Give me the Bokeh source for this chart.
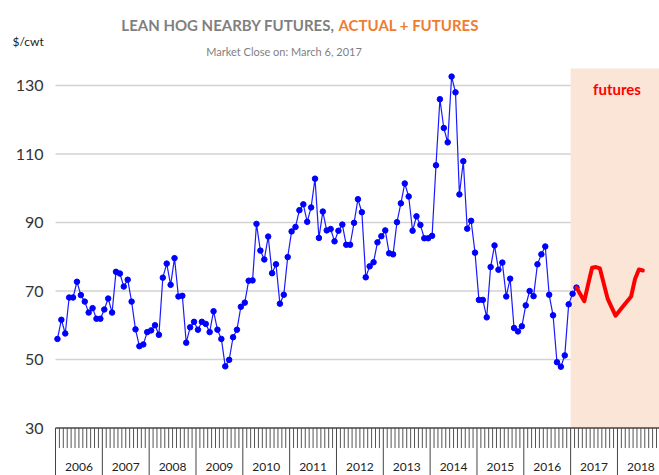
from bokeh.plotting import figure
from bokeh.models import Range1d, ColumnDataSource
from bokeh.core.properties import value
from bokeh.embed import file_html
from bokeh.resources import INLINE

# ---------------- data (monthly nearby lean hog futures, $/cwt) ----------------
hog_2006 = [56.0, 61.6, 57.6, 68.1, 68.1, 72.7, 68.8, 66.9, 63.7, 65.0, 61.9, 61.9]
hog_2007 = [64.6, 67.8, 63.7, 75.6, 75.1, 71.3, 73.3, 66.9, 58.8, 53.9, 54.4, 58.0]
hog_2008 = [58.5, 60.0, 57.2, 73.9, 78.0, 71.8, 79.6, 68.4, 68.6, 54.9, 59.4, 61.0]
hog_2009 = [58.7, 61.0, 60.4, 58.0, 64.1, 58.7, 56.0, 48.0, 49.9, 56.5, 58.7, 65.4]
hog_2010 = [66.6, 73.0, 73.1, 89.6, 81.8, 79.2, 85.9, 75.2, 77.8, 66.3, 68.9, 79.9]
hog_2011 = [87.4, 88.7, 93.6, 95.3, 90.2, 94.4, 102.8, 85.5, 93.2, 87.7, 88.1, 84.5]
hog_2012 = [87.6, 89.4, 83.5, 83.5, 89.9, 96.8, 93.0, 74.0, 77.2, 78.4, 84.2, 86.0]
hog_2013 = [87.7, 81.0, 80.7, 90.1, 95.6, 101.4, 97.6, 87.6, 91.8, 89.3, 85.4, 85.4]
hog_2014 = [86.1, 106.7, 126.0, 117.6, 113.4, 132.6, 128.0, 98.2, 107.9, 88.2, 90.5, 81.2]
hog_2015 = [67.4, 67.4, 62.3, 77.0, 83.3, 76.2, 78.3, 68.4, 73.6, 59.2, 58.2, 59.7]
hog_2016 = [65.8, 70.0, 68.5, 77.8, 80.7, 83.0, 68.9, 62.9, 49.2, 47.9, 51.2, 66.1]
hog_2017 = [69.2, 71.0]
actual_start_year = 2006

futures_months = ["2017-02", "2017-04", "2017-05", "2017-06", "2017-07", "2017-08",
                  "2017-10", "2017-12", "2018-02", "2018-04", "2018-05", "2018-06", "2018-07"]
futures_values = [71.0, 67.0, 72.0, 76.8, 77.0, 76.6, 67.7, 62.8, 65.6, 68.4, 73.5, 76.3, 76.0]
futures_start = 2017

year_labels = ["2006", "2007", "2008", "2009", "2010", "2011", "2012",
               "2013", "2014", "2015", "2016", "2017", "2018"]
y_ticks = [30, 50, 70, 90, 110, 130]
grid_ticks = [50, 70, 90, 110, 130]
y_axis_floor = 30
y_axis_top = 135

title_left = "LEAN HOG NEARBY FUTURES,"
title_right = "ACTUAL + FUTURES"
subtitle = "Market Close on: March 6, 2017"
unit_label = "$/cwt"
futures_label = "futures"

# ---------------- derived ----------------
actual_values = (hog_2006 + hog_2007 + hog_2008 + hog_2009 + hog_2010 + hog_2011 +
                 hog_2012 + hog_2013 + hog_2014 + hog_2015 + hog_2016 + hog_2017)
actual_x = [actual_start_year + (i + 0.5) / 12 for i in range(len(actual_values))]


def month_to_x(s):
    y, m = s.split("-")
    return int(y) + (int(m) - 0.5) / 12


futures_x = [month_to_x(s) for s in futures_months]

# ---------------- layout / scales ----------------
W, H = 659, 475
PX_YEAR = 46.83          # pixels per year
PX_UNIT = 3.425          # pixels per $/cwt
FRAME_L = 55             # pixel where the first year starts
Y130_PX = 85             # pixel row of the 130 gridline
first_year = int(year_labels[0])
X0 = first_year - FRAME_L / PX_YEAR
X1 = first_year + (W - FRAME_L) / PX_YEAR
Y1 = 130 + Y130_PX / PX_UNIT
Y0 = 130 - (H - Y130_PX) / PX_UNIT


def wx(px):
    return first_year + (px - FRAME_L) / PX_YEAR


def wy(py):
    return 130 - (py - Y130_PX) / PX_UNIT


p = figure(width=W, height=H, x_range=Range1d(X0, X1), y_range=Range1d(Y0, Y1),
           output_backend="svg", toolbar_location=None,
           x_axis_location=None, y_axis_location=None,
           min_border_left=0, min_border_right=0, min_border_top=0, min_border_bottom=0)
p.outline_line_color = None
p.grid.visible = False
p.background_fill_color = "white"
p.border_fill_color = "white"

# horizontal gridlines
p.segment(x0=[first_year] * len(grid_ticks), x1=[X1] * len(grid_ticks),
          y0=grid_ticks, y1=grid_ticks, line_color="#D2D2D2", line_width=1.5)

# futures shaded region
p.quad(left=[futures_start], right=[X1], bottom=[y_axis_floor], top=[y_axis_top],
       fill_color="#FBE5D6", line_color=None)

# x axis: line, monthly ticks, year separators, year labels
n_years = len(year_labels)
month_bounds = [first_year + k / 12 for k in range(n_years * 12 + 1) if k % 12 != 0]
year_bounds = [first_year + k for k in range(n_years + 1)]
tick_len = 20 / PX_UNIT
p.segment(x0=month_bounds, x1=month_bounds, y0=[y_axis_floor] * len(month_bounds),
          y1=[y_axis_floor - tick_len] * len(month_bounds), line_color="#555555", line_width=1)
p.segment(x0=year_bounds, x1=year_bounds, y0=[y_axis_floor] * len(year_bounds),
          y1=[Y0] * len(year_bounds), line_color="#444444", line_width=1)
p.segment(x0=[first_year], x1=[X1], y0=[y_axis_floor], y1=[y_axis_floor],
          line_color="#444444", line_width=1.5)
p.text(x=[int(v) + 0.5 for v in year_labels], y=[wy(466)] * n_years, text=year_labels,
       text_align="center", text_baseline="middle", text_font=value("Lato"),
       text_font_size="12px", text_color="#222222")

# y tick labels
p.text(x=[wx(43)] * len(y_ticks), y=y_ticks, text=[str(t) for t in y_ticks],
       text_align="right", text_baseline="middle", text_font=value("Lato"),
       text_font_size="16px", text_color="#333333")

# actual series
src = ColumnDataSource(dict(x=actual_x, y=actual_values))
p.line("x", "y", source=src, line_color="#1A1AFF", line_width=1.2)
p.scatter("x", "y", source=src, size=5.5, fill_color="#0000FF", line_color="#0000FF")

# futures curve
p.line(futures_x, futures_values, line_color="#FF0000", line_width=4,
       line_join="round", line_cap="round")

# titles and labels
p.text(x=[wx(334)], y=[wy(24)], text=[title_left], text_align="right",
       text_baseline="middle", text_font=value("Lato"), text_font_style="bold",
       text_font_size="15px", text_color="#7F7F7F")
p.text(x=[wx(338)], y=[wy(24)], text=[title_right], text_align="left",
       text_baseline="middle", text_font=value("Lato"), text_font_style="bold",
       text_font_size="15px", text_color="#ED7D31")
p.text(x=[wx(283.5)], y=[wy(51)], text=[subtitle], text_align="center",
       text_baseline="middle", text_font=value("Lato"), text_font_size="11px",
       text_color="#7F7F7F")
p.text(x=[wx(12)], y=[wy(41)], text=[unit_label], text_align="left",
       text_baseline="middle", text_font=value("Lato"), text_font_size="12px",
       text_color="#222222")
p.text(x=[wx(616.5)], y=[wy(88)], text=[futures_label], text_align="center",
       text_baseline="middle", text_font=value("Lato"), text_font_style="bold",
       text_font_size="15px", text_color="#FF0000")

open("out.html", "w").write(file_html(p, INLINE))
